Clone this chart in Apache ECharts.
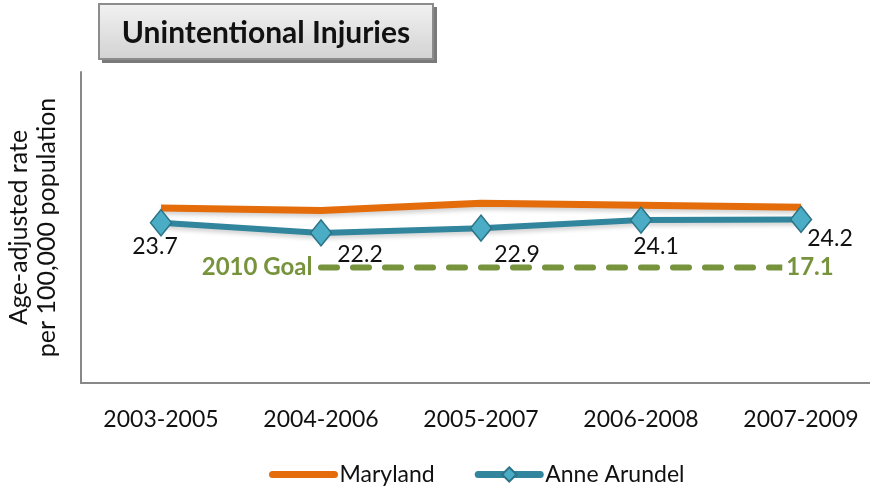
<!DOCTYPE html>
<html>
<head>
<meta charset="utf-8">
<script src="https://cdn.jsdelivr.net/npm/echarts@6/dist/echarts.min.js"></script>
<style>
  html, body { margin: 0; padding: 0; background: #fff; }
  #chart { width: 870px; height: 493px; }
</style>
</head>
<body>
<div id="chart"></div>
<script>
const periods = ["2003-2005", "2004-2006", "2005-2007", "2006-2008", "2007-2009"];
const maryland = [25.9, 25.5, 26.6, 26.3, 26.0];
const anneArundel = [23.7, 22.2, 22.9, 24.1, 24.2];
const goal = [null, 17.1, 17.1, 17.1, 17.1];
const goalLabel = "2010 Goal";

// where each Anne Arundel value label sits relative to its marker
const labelOffsets = [[-6, 24], [39, 22], [36, 26], [15, 27], [29, 19]];

const font = "Lato, 'Open Sans', sans-serif";
const green = "#77933C";

const chart = echarts.init(document.getElementById("chart"));

const aaData = anneArundel.map((v, i) => ({
  value: v,
  label: { show: true, position: "inside", offset: labelOffsets[i], formatter: String(v) },
}));

const goalData = goal.map((v, i) => {
  if (v === null) return null;
  if (i === 1) {
    return { value: v, label: { show: true, position: "left", distance: 8, formatter: goalLabel } };
  }
  if (i === goal.length - 1) {
    return {
      value: v,
      label: {
        show: true, position: "inside", offset: [9, 0], formatter: String(v),
        backgroundColor: "#fff", padding: [2, 4],
      },
    };
  }
  return v;
});

chart.setOption({
  animation: false,
  textStyle: { fontFamily: font },
  grid: { left: 81, top: 72, width: 800, height: 311, outerBoundsMode: "none", containLabel: false },
  xAxis: {
    type: "category",
    data: periods,
    boundaryGap: true,
    axisLine: { lineStyle: { color: "#888", width: 2 } },
    axisTick: { show: false },
    axisLabel: { color: "#111", fontSize: 23, margin: 25, fontFamily: font },
  },
  yAxis: {
    type: "value",
    min: 0,
    max: 46,
    splitLine: { show: false },
    axisTick: { show: false },
    axisLabel: { show: false },
    axisLine: { show: true, lineStyle: { color: "#888", width: 2 } },
    name: "Age-adjusted rate\nper 100,000 population",
    nameLocation: "middle",
    nameRotate: 90,
    nameGap: 20,
    nameTextStyle: { color: "#111", fontSize: 25, lineHeight: 28, fontFamily: font },
  },
  legend: {
    data: [
      { name: "Maryland", itemStyle: { opacity: 0 }, lineStyle: { width: 7, cap: "round" } },
      { name: "Anne Arundel", lineStyle: { width: 7, cap: "round" } },
    ],
    left: 264,
    top: 458,
    itemWidth: 62,
    itemHeight: 18,
    itemGap: 40,
    textStyle: { color: "#111", fontSize: 23, fontFamily: font },
  },
  graphic: [
    {
      type: "group",
      left: 98,
      top: 3,
      children: [
        {
          type: "rect",
          shape: { x: 3, y: 3, width: 335, height: 56 },
          style: { fill: "#7a7a7a" },
        },
        {
          type: "rect",
          shape: { x: 0, y: 0, width: 334, height: 55 },
          style: {
            fill: new echarts.graphic.LinearGradient(0, 0, 0, 1, [
              { offset: 0, color: "#f2f2f2" },
              { offset: 1, color: "#d2d2d2" },
            ]),
            stroke: "#8c8c8c",
            lineWidth: 2,
          },
        },
        {
          type: "text",
          x: 167,
          y: 29,
          style: {
            text: "Unintentional Injuries",
            fill: "#111",
            font: "bold 30px " + font,
            align: "center",
            verticalAlign: "middle",
          },
        },
      ],
    },
  ],
  series: [
    {
      name: "Maryland",
      type: "line",
      data: maryland,
      symbol: "none",
      z: 2,
      lineStyle: {
        color: "#E46C0A", width: 7,
        shadowColor: "rgba(0,0,0,0.18)", shadowBlur: 4, shadowOffsetY: 3,
      },
      itemStyle: { color: "#E46C0A" },
    },
    {
      name: "Anne Arundel",
      type: "line",
      data: aaData,
      symbol: "diamond",
      symbolSize: [21, 26],
      z: 3,
      lineStyle: {
        color: "#31859C", width: 6,
        shadowColor: "rgba(0,0,0,0.18)", shadowBlur: 4, shadowOffsetY: 3,
      },
      itemStyle: { color: "#4BACC6", borderColor: "#2C7386", borderWidth: 1.5 },
      label: { color: "#111", fontSize: 23, fontFamily: font },
    },
    {
      name: "Goal",
      type: "line",
      data: goalData,
      symbol: "circle",
      symbolSize: 1,
      showSymbol: true,
      z: 1,
      itemStyle: { color: "rgba(0,0,0,0)" },
      lineStyle: { color: green, width: 6, type: [16, 16], cap: "round" },
      label: { color: green, fontSize: 24, fontWeight: "bold", fontFamily: font },
    },
  ],
});
</script>
</body>
</html>
